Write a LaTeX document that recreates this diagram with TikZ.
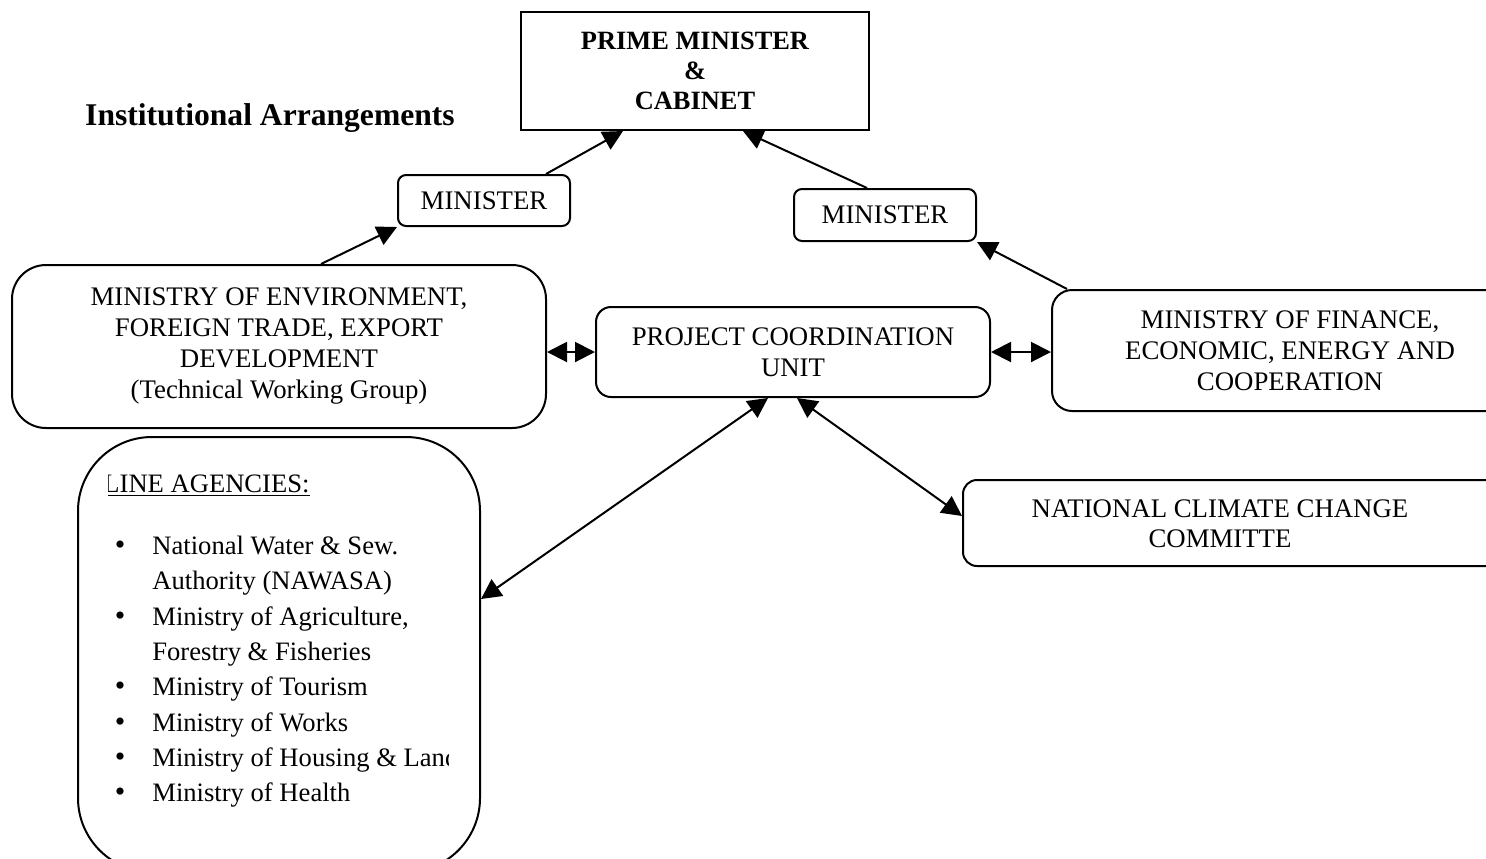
\documentclass[tikz,border=0pt]{standalone}
\usepackage{fontspec}
\setmainfont{Liberation Serif}
\usetikzlibrary{arrows.meta,calc}
\begin{document}
\begin{tikzpicture}[x=0.5pt,y=-0.5pt,
  box/.style={draw,line width=1pt,fill=white,inner sep=0pt,align=center,font=\fontsize{13.4pt}{15.5pt}\selectfont},
  rbox/.style={box,rounded corners=#1},
  txt/.style={inner sep=0pt,align=center,font=\fontsize{13.4pt}{15.2pt}\selectfont},
  litem/.style={inner sep=0pt,anchor=base west,font=\fontsize{13.3pt}{15pt}\selectfont},
  lbul/.style={inner sep=0pt,anchor=base,font=\fontsize{15pt}{15pt}\selectfont},
  arr/.style={line width=1pt,-{Triangle[length=10pt,width=10pt]}},
  darr/.style={line width=1pt,{Triangle[length=10pt,width=10pt]}-{Triangle[length=10pt,width=10pt]}}
]
\useasboundingbox (0,0) rectangle (1486,858);

\node[box,minimum width=174pt,minimum height=59pt,font=\bfseries\fontsize{13.2pt}{15pt}\selectfont] (pm) at (695,71) {PRIME MINISTER\\\&\\CABINET};
\node[txt,font=\bfseries\fontsize{15.8pt}{18pt}\selectfont] (title) at (270,118) {Institutional Arrangements};
\node[rbox=4pt,minimum width=86pt,minimum height=25.5pt] (minl) at (484,200.5) {MINISTER};
\node[rbox=4pt,minimum width=91pt,minimum height=26pt] (minr) at (885,215) {MINISTER};
\node[rbox=17pt,minimum width=267pt,minimum height=81.5pt] (env) at (279,346.5) {MINISTRY OF ENVIRONMENT,\\FOREIGN TRADE, EXPORT\\DEVELOPMENT\\(Technical Working Group)};
\node[rbox=7.5pt,minimum width=197pt,minimum height=45pt] (pcu) at (793,352) {PROJECT COORDINATION\\UNIT};
\node[rbox=10pt,minimum width=238pt,minimum height=60.5pt] (fin) at (1290,350.5) {MINISTRY OF FINANCE,\\ECONOMIC, ENERGY AND\\COOPERATION};
\node[rbox=7pt,minimum width=268.5pt,minimum height=43pt] (ncc) at (1231.5,523) {};
\node[txt] (ncct) at (1220,524) {NATIONAL CLIMATE CHANGE\\COMMITTE};
\node[rbox=37pt,minimum width=201pt,minimum height=217.5pt] (la) at (279,654.5) {};

\begin{scope}
\clip (108,440) rectangle (448,850);
\node[litem] (lah) at (103,492) {\underline{LINE AGENCIES:}};
\node[litem] (li1) at (152,554) {National Water \& Sew.};
\node[litem] (li2) at (152,589) {Authority (NAWASA)};
\node[litem] (li3) at (152,625) {Ministry of Agriculture,};
\node[litem] (li4) at (152,660) {Forestry \& Fisheries};
\node[litem] (li5) at (152,695) {Ministry of Tourism};
\node[litem] (li6) at (152,731) {Ministry of Works};
\node[litem] (li7) at (152,766) {Ministry of Housing \& Land};
\node[litem] (li8) at (152,801) {Ministry of Health};
\foreach \n/\y in {1/554,3/625,5/695,6/731,7/766,8/801}
  \node[lbul] (b\n) at (120,\y) {•};
\end{scope}

\draw[arr] ($(env.north west)+(310,0)$) -- (minl.south west);
\draw[arr] ($(minl.north west)+(149,0)$) -- ($(pm.south west)+(103,0)$);
\draw[arr] ($(fin.north west)+(16,0)$) -- (minr.south east);
\draw[arr] ($(minr.north west)+(74,0)$) -- ($(pm.south west)+(223,0)$);
\draw[darr] (env.east |- pcu.west) -- (pcu.west);
\draw[darr] (pcu.east) -- (fin.west |- pcu.east);
\draw[darr] ($(pcu.south)+(-25,0)$) -- ($(la.north east)+(0,163)$);
\draw[darr] ($(pcu.south)+(4,0)$) -- ($(ncc.north west)+(0,37)$);
\end{tikzpicture}
\end{document}
